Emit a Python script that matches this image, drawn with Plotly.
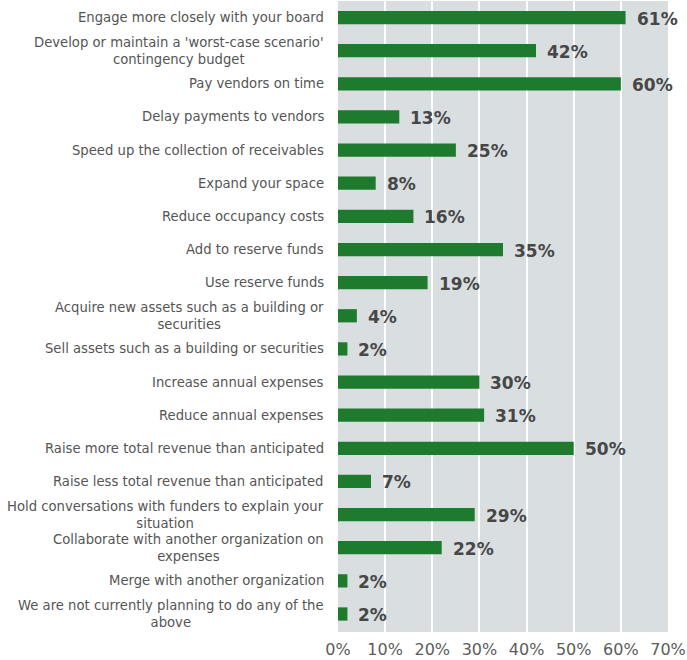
import plotly.graph_objects as go

categories = [
    "Engage more closely with your board",
    "Develop or maintain a 'worst-case scenario'<br>contingency budget",
    "Pay vendors on time",
    "Delay payments to vendors",
    "Speed up the collection of receivables",
    "Expand your space",
    "Reduce occupancy costs",
    "Add to reserve funds",
    "Use reserve funds",
    "Acquire new assets such as a building or<br>securities",
    "Sell assets such as a building or securities",
    "Increase annual expenses",
    "Reduce annual expenses",
    "Raise more total revenue than anticipated",
    "Raise less total revenue than anticipated",
    "Hold conversations with funders to explain your<br>situation",
    "Collaborate with another organization on<br>expenses",
    "Merge with another organization",
    "We are not currently planning to do any of the<br>above",
]
values = [61, 42, 60, 13, 25, 8, 16, 35, 19, 4, 2, 30, 31, 50, 7, 29, 22, 2, 2]
value_labels = ["61%", "42%", "60%", "13%", "25%", "8%", "16%", "35%", "19%", "4%",
                "2%", "30%", "31%", "50%", "7%", "29%", "22%", "2%", "2%"]
x_ticks = [0, 10, 20, 30, 40, 50, 60, 70]
x_tick_labels = ["0%", "10%", "20%", "30%", "40%", "50%", "60%", "70%"]

fig = go.Figure()
fig.add_trace(go.Bar(
    x=values, y=categories, orientation="h",
    marker=dict(color="#1e7a2d", line=dict(width=0)),
    hoverinfo="skip",
))

annotations = []
for c, v, lab in zip(categories, values, value_labels):
    annotations.append(dict(
        x=v, y=c, xref="x", yref="y", text=lab, showarrow=False,
        xanchor="left", xshift=9, yshift=-1,
        font=dict(family="DejaVu Sans", size=17, color="#474747", weight="bold"),
    ))
    annotations.append(dict(
        x=0, y=c, xref="paper", yref="y", text=c, showarrow=False,
        xanchor="right", xshift=-12, align="center",
        font=dict(family="DejaVu Sans", size=13.2, color="#555555"),
    ))

fig.update_layout(
    width=687, height=660,
    margin=dict(l=338, r=19, t=1, b=28, autoexpand=False),
    plot_bgcolor="#d9dfe1", paper_bgcolor="white",
    bargap=0.6, showlegend=False,
    annotations=annotations,
    font=dict(family="DejaVu Sans"),
)
fig.update_xaxes(
    range=[0, 70], tickvals=x_ticks, ticktext=x_tick_labels,
    showgrid=True, gridcolor="white", gridwidth=2, zeroline=False,
    ticks="", ticklabelstandoff=6, automargin=False,
    tickfont=dict(family="DejaVu Sans", size=16, color="#5c5c5c"),
    fixedrange=True,
)
fig.update_yaxes(
    autorange="reversed", showticklabels=False, showgrid=False, zeroline=False,
    ticks="", fixedrange=True, automargin=False,
)

fig.write_html("out.html",
               config={"displayModeBar": False},
               post_script="document.body.style.margin='0';document.body.style.overflow='hidden';")
